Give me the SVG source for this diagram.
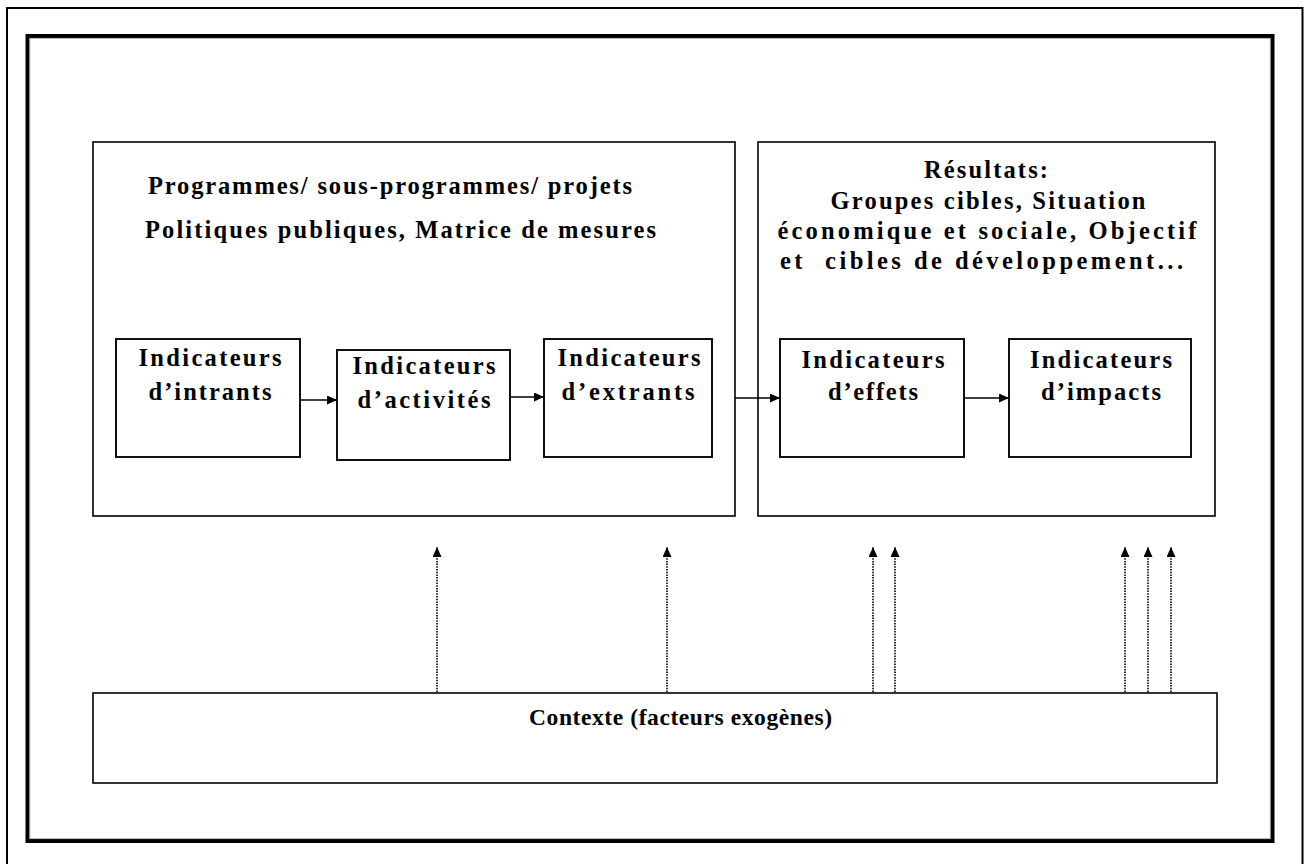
<svg xmlns="http://www.w3.org/2000/svg" width="1309" height="864" viewBox="0 0 1309 864">
<style>
.t{font-family:"Liberation Serif","Times New Roman",serif;font-weight:bold;font-size:24.5px;fill:#000;white-space:pre}
.c{font-size:23.5px}
.m{text-anchor:middle}
.box{fill:#fff;stroke:#000;stroke-width:1.6}
.sbox{fill:#fff;stroke:#111;stroke-width:2}
.solid{stroke:#000;stroke-width:1.6;fill:none}
.dot{stroke:#000;stroke-width:1.6;fill:none;stroke-dasharray:1.5 1.2}
</style>
<defs>
<marker id="ah" markerWidth="10" markerHeight="9" refX="10" refY="4.5" orient="auto" markerUnits="userSpaceOnUse">
<path d="M0,0 L10,4.5 L0,9 Z" fill="#000"/>
</marker>
</defs>
<rect width="1309" height="864" fill="#fff"/>
<g id="frame">
<path d="M7,864 V8 H1302.5 V864" fill="none" stroke="#000" stroke-width="2"/>
<rect x="27.5" y="36" width="1245" height="805" fill="none" stroke="#000" stroke-width="4"/>
<rect x="29.8" y="38.3" width="1240.4" height="800.4" fill="none" stroke="#999" stroke-width="0.8"/>
</g>
<g id="programmes">
<rect class="box" x="93" y="142" width="642" height="374"/>
<text class="t" x="148" y="194" textLength="484" lengthAdjust="spacing">Programmes/ sous-programmes/ projets</text>
<text class="t" x="145" y="238" textLength="511" lengthAdjust="spacing">Politiques publiques, Matrice de mesures</text>
</g>
<g id="resultats">
<rect class="box" x="758" y="142" width="457" height="374"/>
<text class="t m" x="986" y="178" textLength="124" lengthAdjust="spacing">Résultats:</text>
<text class="t m" x="988" y="209" textLength="315" lengthAdjust="spacing">Groupes cibles, Situation</text>
<text class="t m" x="987" y="239" textLength="419" lengthAdjust="spacing">économique et sociale, Objectif</text>
<text class="t" x="780" y="269" textLength="403" lengthAdjust="spacing">et  cibles de développement...</text>
</g>
<g id="intrants">
<rect class="sbox" x="116" y="339" width="184" height="118"/>
<text class="t m" x="210" y="366" textLength="143" lengthAdjust="spacing">Indicateurs</text>
<text class="t m" x="210" y="400" textLength="123" lengthAdjust="spacing">d’intrants</text>
</g>
<g id="activites">
<rect class="sbox" x="337" y="350" width="173" height="110"/>
<text class="t m" x="424" y="374" textLength="143" lengthAdjust="spacing">Indicateurs</text>
<text class="t m" x="424" y="408" textLength="133" lengthAdjust="spacing">d’activités</text>
</g>
<g id="extrants">
<rect class="sbox" x="544" y="339" width="168" height="118"/>
<text class="t m" x="629" y="366" textLength="143" lengthAdjust="spacing">Indicateurs</text>
<text class="t m" x="628" y="400" textLength="133" lengthAdjust="spacing">d’extrants</text>
</g>
<g id="effets">
<rect class="sbox" x="780" y="339" width="184" height="118"/>
<text class="t m" x="873" y="368" textLength="143" lengthAdjust="spacing">Indicateurs</text>
<text class="t m" x="873" y="400" textLength="90" lengthAdjust="spacing">d’effets</text>
</g>
<g id="impacts">
<rect class="sbox" x="1009" y="339" width="182" height="118"/>
<text class="t m" x="1101" y="368" textLength="142" lengthAdjust="spacing">Indicateurs</text>
<text class="t m" x="1101" y="400" textLength="120" lengthAdjust="spacing">d’impacts</text>
</g>
<g id="contexte">
<rect class="box" x="93" y="693" width="1124" height="90"/>
<text class="t c" x="529" y="725" textLength="303" lengthAdjust="spacing">Contexte (facteurs exogènes)</text>
</g>
<g id="connectors">
<line class="solid" x1="300" y1="400" x2="337" y2="400" marker-end="url(#ah)"/>
<line class="solid" x1="510" y1="397" x2="544" y2="397" marker-end="url(#ah)"/>
<line class="solid" x1="735" y1="398" x2="780" y2="398" marker-end="url(#ah)"/>
<line class="solid" x1="964" y1="398" x2="1009" y2="398" marker-end="url(#ah)"/>
<line class="dot" x1="437" y1="692" x2="437" y2="547" marker-end="url(#ah)"/>
<line class="dot" x1="667" y1="692" x2="667" y2="547" marker-end="url(#ah)"/>
<line class="dot" x1="873" y1="692" x2="873" y2="547" marker-end="url(#ah)"/>
<line class="dot" x1="895" y1="692" x2="895" y2="547" marker-end="url(#ah)"/>
<line class="dot" x1="1125" y1="692" x2="1125" y2="547" marker-end="url(#ah)"/>
<line class="dot" x1="1148" y1="692" x2="1148" y2="547" marker-end="url(#ah)"/>
<line class="dot" x1="1171" y1="692" x2="1171" y2="547" marker-end="url(#ah)"/>
</g>
</svg>
